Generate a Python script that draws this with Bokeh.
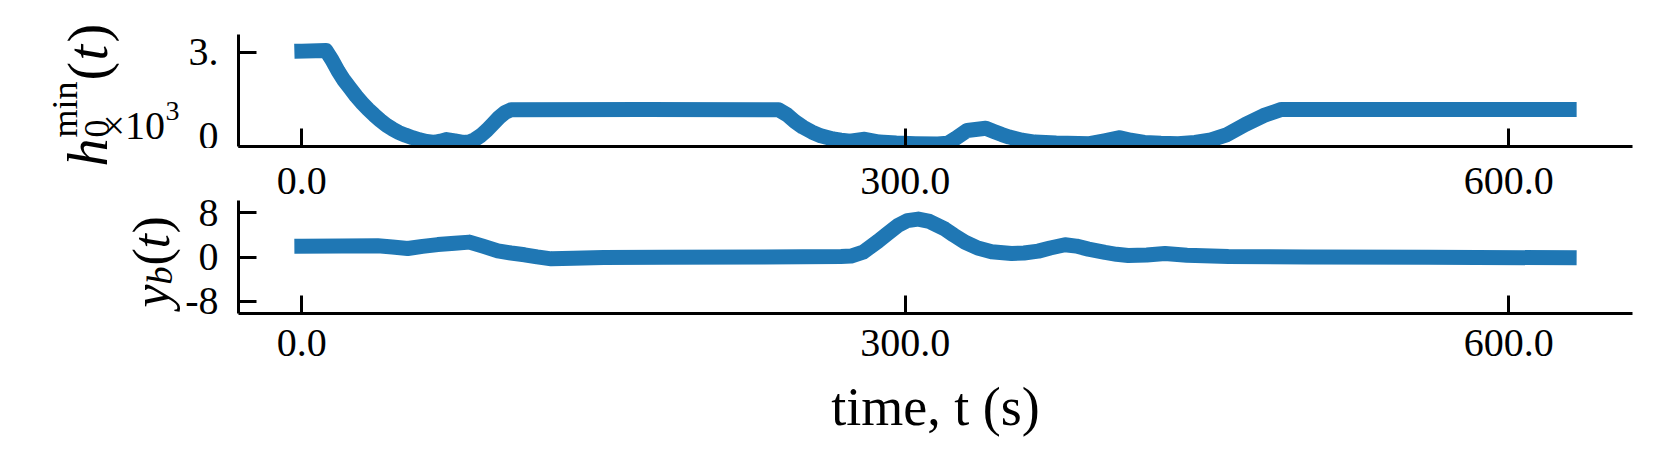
from math import pi
from bokeh.plotting import figure
from bokeh.models import FixedTicker, LinearAxis, Label
from bokeh.layouts import column, row
from bokeh.embed import file_html
from bokeh.resources import INLINE

# ---------------- data ----------------
t_h = [0, 12, 15, 18, 21, 24, 27, 30, 33, 36, 39, 42, 45, 48, 51.5, 55, 58.5, 62, 66, 69,
       72, 76, 80, 83, 86, 89, 92, 95, 98, 101, 104, 170, 237, 241, 245, 249, 253.6, 258,
       264, 268, 272.5, 279.8, 287, 295.5, 305, 316, 321, 325, 330.7, 340, 344, 348, 351.7,
       358, 364.3, 375, 391.6, 399, 406.7, 412, 418.8, 427, 435.6, 444, 452, 460, 469, 478,
       487, 630]
h_min = [3.03, 3.05, 2.75, 2.40, 2.10, 1.85, 1.60, 1.38, 1.18, 1.00, 0.83, 0.68, 0.56, 0.45,
         0.36, 0.28, 0.21, 0.16, 0.13, 0.17, 0.22, 0.18, 0.13, 0.14, 0.22, 0.35, 0.52, 0.72,
         0.92, 1.08, 1.17, 1.18, 1.17, 1.02, 0.80, 0.62, 0.46, 0.34, 0.24, 0.20, 0.17, 0.23,
         0.14, 0.11, 0.09, 0.08, 0.10, 0.26, 0.51, 0.58, 0.48, 0.38, 0.30, 0.20, 0.14, 0.11,
         0.09, 0.18, 0.28, 0.20, 0.13, 0.10, 0.09, 0.13, 0.21, 0.38, 0.70, 0.98, 1.18, 1.18]

t_y = [0, 20, 37.7, 45, 52.6, 60, 67.6, 76, 83.3, 90, 97.4, 104, 110.7, 117, 124, 135, 150,
       180, 230, 268, 273, 279, 286.5, 291, 296.4, 301, 306.4, 312, 319.7, 324, 329.6, 336,
       342.9, 352.8, 359, 366.1, 372, 379.4, 385, 391, 399.3, 405, 410.8, 420, 429.1, 440,
       460.6, 500, 560, 630]
y_b = [1.97, 2.02, 2.06, 1.85, 1.57, 1.95, 2.27, 2.50, 2.72, 2.00, 1.15, 0.75, 0.43, 0.05,
       -0.30, -0.18, -0.05, 0.0, 0.05, 0.13, 0.20, 0.90, 2.90, 4.20, 5.74, 6.60, 6.88, 6.45,
       5.07, 4.00, 2.72, 1.65, 0.97, 0.67, 0.75, 1.09, 1.65, 2.24, 2.00, 1.45, 0.85, 0.52,
       0.31, 0.40, 0.67, 0.35, 0.10, 0.03, 0.0, -0.12]

x_ticks = [0, 300, 600]
x_tick_labels = ["0.0", "300.0", "600.0"]
h_ticks = [0, 3]
h_tick_labels = ["0", "3."]
yb_ticks = [-8, 0, 8]
yb_tick_labels = ["-8", "0", "8"]
x_title = "time, t (s)"

# ---------------- styling / layout ----------------
FONT = "Liberation Serif"
BLUE = "#1f77b4"
X0, X1 = -31.5, 661.5
H0, H1 = 0.0, 3.56
Y0, Y1 = -10.17, 10.23
FW = 1394
FH1, FH2 = 112, 113
RIGHT = 22
TOP1 = 34            # top border of the upper figure
GAP1 = 2             # bottom border of the upper figure
TOP2 = 52            # top border of the lower figure (holds the upper panel's tick labels)
BOT2 = 150
WL = 182             # width of the left strip column that holds the rotated y titles
H_ROW1 = TOP1 + FH1 + GAP1
H_ROW2 = TOP2 + FH2 + BOT2
H_TOTAL = H_ROW1 + H_ROW2
HS1 = 170            # height of the upper strip
HS2 = H_TOTAL - HS1


def style_axis(ax, size="40px"):
    ax.axis_line_width = 3
    ax.axis_line_color = "black"
    ax.major_tick_in = 18
    ax.major_tick_out = 0
    ax.major_tick_line_width = 3
    ax.major_tick_line_color = "black"
    ax.minor_tick_in = 0
    ax.minor_tick_out = 0
    ax.major_label_text_font = FONT
    ax.major_label_text_font_size = size
    ax.major_label_text_color = "black"


def make_fig(yr, fh, top, bottom):
    p = figure(frame_width=FW, frame_height=fh, x_range=(X0, X1), y_range=yr,
               output_backend="svg", toolbar_location=None,
               min_border_left=234 - WL, min_border_right=RIGHT,
               min_border_top=top, min_border_bottom=bottom)
    p.grid.visible = False
    p.outline_line_color = None
    p.background_fill_color = "white"
    p.border_fill_color = "white"
    style_axis(p.xaxis[0])
    style_axis(p.yaxis[0])
    p.xaxis.ticker = FixedTicker(ticks=x_ticks)
    p.yaxis.major_label_standoff = 20
    return p


# upper panel
p1 = make_fig((H0, H1), FH1, TOP1, GAP1)
p1.yaxis.ticker = FixedTicker(ticks=h_ticks)
p1.yaxis.major_label_overrides = dict(zip(h_ticks, h_tick_labels))
p1.xaxis.major_label_overrides = {k: "" for k in x_ticks}
p1.xaxis.major_label_text_font_size = "0px"
p1.line(t_h, h_min, line_width=15, line_color=BLUE, line_cap="square", line_join="round")

# lower panel
p2 = make_fig((Y0, Y1), FH2, TOP2, BOT2)
p2.yaxis.ticker = FixedTicker(ticks=yb_ticks)
p2.yaxis.major_label_overrides = dict(zip(yb_ticks, yb_tick_labels))
p2.xaxis.major_label_overrides = dict(zip(x_ticks, x_tick_labels))
p2.xaxis.major_label_standoff = 16
p2.xaxis.axis_label = x_title
p2.xaxis.axis_label_text_font = FONT
p2.xaxis.axis_label_text_font_size = "54px"
p2.xaxis.axis_label_text_font_style = "normal"
p2.xaxis.axis_label_text_color = "black"
p2.xaxis.axis_label_standoff = 18
p2.line(t_y, y_b, line_width=15, line_color=BLUE, line_cap="square", line_join="round")

# tick labels of the upper panel's time axis (sit just above the lower panel)
top_time_labels = LinearAxis(ticker=FixedTicker(ticks=x_ticks),
                             major_label_overrides=dict(zip(x_ticks, x_tick_labels)))
style_axis(top_time_labels)
top_time_labels.axis_line_color = None
top_time_labels.major_tick_in = 0
top_time_labels.major_tick_line_color = None
top_time_labels.major_label_standoff = 7
p2.add_layout(top_time_labels, "above")


# ---------------- left strips with the rotated y titles ----------------
def strip(w, h):
    s = figure(width=w, height=h, x_range=(0, w), y_range=(0, h), title=None,
               output_backend="svg", toolbar_location=None,
               x_axis_location=None, y_axis_location=None, min_border=0,
               min_border_left=0, min_border_right=0, min_border_top=0, min_border_bottom=0)
    if "frame_align" in s.properties():
        s.frame_align = False
    s.grid.visible = False
    s.outline_line_color = None
    s.background_fill_color = "white"
    s.border_fill_color = "white"
    return s


def put(s, y_page0, h, x, y, text, size, style="normal", angle=0.0):
    # x, y in page pixels; label units are relative to the strip's frame (bottom-left)
    s.add_layout(Label(x=x, y=y_page0 + h - y, x_units="screen", y_units="screen",
                       text=text, text_font=FONT, text_font_size=size,
                       text_font_style=style, text_color="black", angle=angle,
                       text_align="left", text_baseline="alphabetic"))


R = pi / 2
s1 = strip(WL, HS1)
# h_0^{min}(t)
put(s1, 0, HS1, 87, 166, "h", "56px", "italic", R)
put(s1, 0, HS1, 96, 137, "0", "36px", "normal", R)
put(s1, 0, HS1, 64, 137, "min", "36px", "normal", R)
put(s1, 0, HS1, 87, 80, "(", "56px", "normal", R)
put(s1, 0, HS1, 87, 60, "t", "56px", "italic", R)
put(s1, 0, HS1, 87, 42, ")", "56px", "normal", R)
# multiplier x10^3
put(s1, 0, HS1, 102, 125, "\u00d710", "40px")
put(s1, 0, HS1, 165, 110, "3", "28px")

s2 = strip(WL, HS2)
# y_b(t)
put(s2, HS1, HS2, 151, 307, "y", "52px", "italic", R)
put(s2, HS1, HS2, 159, 284, "b", "36px", "italic", R)
put(s2, HS1, HS2, 151, 265, "(", "52px", "normal", R)
put(s2, HS1, HS2, 151, 248, "t", "52px", "italic", R)
put(s2, HS1, HS2, 151, 233, ")", "52px", "normal", R)

layout = row(column(s1, s2), column(p1, p2))
open("out.html", "w").write(file_html(layout, INLINE))
